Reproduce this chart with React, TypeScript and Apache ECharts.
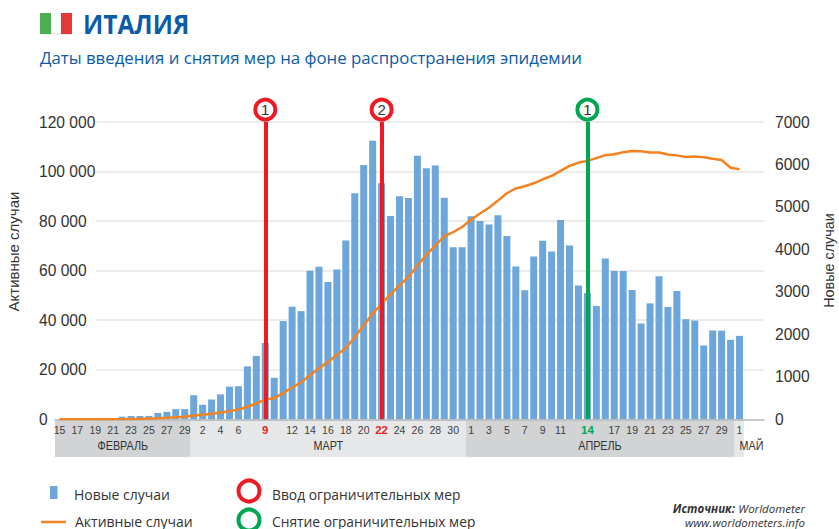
import React, { useEffect, useRef } from "react";
import * as echarts from "echarts";

const dates = [
  "02-15","02-16","02-17","02-18","02-19","02-20","02-21","02-22","02-23","02-24","02-25","02-26","02-27","02-28","02-29",
  "03-01","03-02","03-03","03-04","03-05","03-06","03-07","03-08","03-09","03-10","03-11","03-12","03-13","03-14","03-15","03-16","03-17","03-18","03-19","03-20","03-21","03-22","03-23","03-24","03-25","03-26","03-27","03-28","03-29","03-30","03-31",
  "04-01","04-02","04-03","04-04","04-05","04-06","04-07","04-08","04-09","04-10","04-11","04-12","04-13","04-14","04-15","04-16","04-17","04-18","04-19","04-20","04-21","04-22","04-23","04-24","04-25","04-26","04-27","04-28","04-29","04-30",
  "05-01",
];
const dayLabels: Record<string, string> = {
  "02-15":"15","02-17":"17","02-19":"19","02-21":"21","02-23":"23","02-25":"25","02-27":"27","02-29":"29",
  "03-02":"2","03-04":"4","03-06":"6","03-09":"9","03-12":"12","03-14":"14","03-16":"16","03-18":"18","03-20":"20","03-22":"22","03-24":"24","03-26":"26","03-28":"28","03-30":"30",
  "04-01":"1","04-03":"3","04-05":"5","04-07":"7","04-09":"9","04-11":"11","04-14":"14","04-17":"17","04-19":"19","04-21":"21","04-23":"23","04-25":"25","04-27":"27","04-29":"29",
  "05-01":"1",
};
const newCases = [
  0,0,0,0,0,0,0,62,78,78,80,150,175,240,240,
  566,342,466,587,769,778,1247,1492,1797,977,2313,2651,2547,3497,3590,3233,3526,4207,5322,5986,6557,5560,4789,5249,5210,6203,5909,5974,5217,4050,4053,
  4782,4668,4585,4805,4316,3599,3039,3836,4204,3951,4694,4092,3153,2972,2667,3786,3493,3491,3047,2256,2729,3370,2646,3021,2357,2324,1739,2091,2086,1872,
  1965,
];
const activeCases = [
  3,3,3,3,3,3,19,59,150,221,311,438,593,821,1053,
  1577,1835,2263,2706,3296,3916,5061,6387,7985,8514,10590,12839,14955,17750,20603,23073,26062,28710,33190,37860,42681,46638,50418,54030,57521,62013,66414,70065,73880,75528,77635,
  80572,83049,85388,88274,91246,93187,94067,95262,96877,98273,100269,102253,103616,104291,105418,106607,106962,107771,108257,108237,107709,107699,106848,106527,105847,106103,105813,105205,104657,101551,
  100943,
];
const months = ["ФЕВРАЛЬ", "МАРТ", "АПРЕЛЬ", "МАЙ"];
const monthEdges = [55, 190.7, 466, 734, 744];
const restrictionEvents = [
  { date: "03-09", label: "1" },
  { date: "03-22", label: "2" },
];
const liftEvents = [{ date: "04-14", label: "1" }];

const BLUE = "#6ca6da";
const ORANGE = "#f58220";
const RED = "#ed1c24";
const GREEN = "#00a651";
const TITLE = "#0b5ca8";
const TEXT = "#333333";
const SANS = "'Liberation Sans', Arial, sans-serif";
const HUM = "'Open Sans', sans-serif";
const MARKER_Y = 125000;

const L = 55, TOP = 122, H = 297.3;

function eventSeries(name: string, events: { date: string; label: string }[], color: string) {
  return {
    name,
    type: "scatter",
    xAxisIndex: 0,
    yAxisIndex: 0,
    clip: false,
    z: 6,
    symbol: "circle",
    symbolSize: 20,
    silent: true,
    itemStyle: { color: "#fff", borderColor: color, borderWidth: 4, opacity: 1 },
    label: {
      show: true,
      position: "inside",
      formatter: (p: any) => events[p.dataIndex].label,
      fontFamily: SANS,
      fontSize: 15,
      color: TEXT,
    },
    data: events.map((e) => [e.date, MARKER_Y]),
    markLine: {
      silent: true,
      symbol: "none",
      z: 5,
      label: { show: false },
      lineStyle: { color, width: 4, type: "solid", opacity: 1 },
      data: events.map((e) => [
        { xAxis: e.date, yAxis: 0 },
        { xAxis: e.date, yAxis: 120000 },
      ]),
    },
  };
}

function buildGraphic() {
  const els: any[] = [];
  // flag
  els.push({ type: "rect", shape: { x: 40, y: 13, width: 32, height: 21.5 }, style: { fill: "#dcdcdc" } });
  els.push({ type: "rect", shape: { x: 40, y: 13, width: 11, height: 21 }, style: { fill: "#4caf50" } });
  els.push({ type: "rect", shape: { x: 51, y: 13, width: 10, height: 20.5 }, style: { fill: "#fafafa" } });
  els.push({ type: "rect", shape: { x: 61, y: 13, width: 11, height: 21 }, style: { fill: "#e53935" } });
  // titles
  els.push({ type: "text", x: 83, y: 24, scaleX: 0.91, style: { text: "ИТАЛИЯ", fontFamily: HUM, fontWeight: 700, fontSize: 27, fill: TITLE, textVerticalAlign: "middle" } });
  els.push({ type: "text", x: 40, y: 57, style: { text: "Даты введения и снятия мер на фоне распространения эпидемии", fontFamily: HUM, fontSize: 16.8, fill: TITLE, textVerticalAlign: "middle" } });
  // axis names
  els.push({ type: "text", x: 13.5, y: 251.5, rotation: Math.PI / 2, style: { text: "Активные случаи", fontFamily: SANS, fontSize: 15, fill: TEXT, textAlign: "center", textVerticalAlign: "middle" } });
  els.push({ type: "text", x: 829, y: 260.5, rotation: Math.PI / 2, style: { text: "Новые случаи", fontFamily: SANS, fontSize: 14.4, fill: TEXT, textAlign: "center", textVerticalAlign: "middle" } });
  // month bands
  months.forEach((m, i) => {
    const x = monthEdges[i];
    const w = monthEdges[i + 1] - x;
    els.push({ type: "rect", z: -1, shape: { x, y: 419.5, width: w, height: 37.5 }, style: { fill: i % 2 === 0 ? "#d1d3d4" : "#e6e7e8" } });
    els.push({
      type: "text", z: 1,
      x: i === 3 ? 751.5 : x + w / 2, y: 446, scaleX: 0.9,
      style: { text: m, fontFamily: SANS, fontSize: 12, fill: TEXT, textAlign: "center", textVerticalAlign: "middle" },
    });
  });
  // legend
  els.push({ type: "rect", shape: { x: 50, y: 486, width: 7.5, height: 13 }, style: { fill: BLUE } });
  els.push({ type: "line", shape: { x1: 41, y1: 522, x2: 66, y2: 522 }, style: { stroke: ORANGE, lineWidth: 2.5 } });
  els.push({ type: "circle", shape: { cx: 249, cy: 491, r: 10.5 }, style: { fill: "#fff", stroke: RED, lineWidth: 4 } });
  els.push({ type: "circle", shape: { cx: 249, cy: 520, r: 10.5 }, style: { fill: "#fff", stroke: GREEN, lineWidth: 4 } });
  const legendText = (text: string, x: number, y: number, size: number) => ({
    type: "text", x, y,
    style: { text, fontFamily: HUM, fontSize: size, lineHeight: 14, fill: TEXT, textVerticalAlign: "middle" },
  });
  els.push(legendText("Новые случаи", 74, 494, 14));
  els.push(legendText("Активные случаи", 75, 521, 14));
  els.push(legendText("Ввод ограничительных мер", 272, 494, 13.8));
  els.push(legendText("Снятие ограничительных мер", 272, 521, 13.8));
  // source
  els.push({
    type: "text", x: 805, y: 508,
    style: {
      text: "{b|Источник:} {i|Worldometer}",
      textAlign: "right", textVerticalAlign: "middle",
      rich: {
        b: { fontFamily: HUM, fontSize: 11.5, fontStyle: "italic", fontWeight: 700, fill: TEXT },
        i: { fontFamily: HUM, fontSize: 11.5, fontStyle: "italic", fill: TEXT },
      },
    },
  });
  els.push({ type: "text", x: 805, y: 522, style: { text: "www.worldometers.info", fontFamily: HUM, fontSize: 11.5, lineHeight: 12, fontStyle: "italic", fill: TEXT, textAlign: "right", textVerticalAlign: "middle" } });
  return els;
}

const spaced = (v: number) => String(v).replace(/\B(?=(\d{3})+$)/g, " ");

export default function App() {
  const ref = useRef<HTMLDivElement>(null);
  useEffect(() => {
    const chart = echarts.init(ref.current!, undefined, { renderer: "svg" });
    const hiddenY = { type: "value", show: false, gridIndex: 0, splitLine: { show: false } };
    chart.setOption({
      animation: false,
      backgroundColor: "#fff",
      grid: [
        { left: L, top: TOP, width: 689, height: H },
        { left: 96, top: TOP, width: 668, height: H },
      ],
      xAxis: [
        {
          type: "category", gridIndex: 0, data: dates,
          boundaryGap: true,
          axisLine: { show: true, lineStyle: { color: "#bcbec0", width: 1.5 } },
          axisTick: { show: false },
          z: 3,
          axisLabel: {
            show: true, interval: 0, hideOverlap: false, margin: 5,
            fontFamily: SANS, fontSize: 10.5, color: "#404040",
            formatter: (v: string) => {
              const t = dayLabels[v];
              if (!t) return "";
              if (restrictionEvents.some((e) => e.date === v)) return `{r|${t}}`;
              if (liftEvents.some((e) => e.date === v)) return `{g|${t}}`;
              return t;
            },
            rich: {
              r: { fontFamily: SANS, fontSize: 11.5, fontWeight: 700, color: RED },
              g: { fontFamily: SANS, fontSize: 11.5, fontWeight: 700, color: GREEN },
            },
          },
        },
        {
          type: "value", gridIndex: 1, min: 0, max: 1,
          axisLine: { show: true, onZero: false, lineStyle: { color: "#bcbec0", width: 1.5 } },
          axisTick: { show: false }, axisLabel: { show: false }, splitLine: { show: false },
        },
      ],
      yAxis: [
        { ...hiddenY, min: 0, max: 120000 },
        { ...hiddenY, min: 0, max: 7000 },
        {
          type: "value", gridIndex: 1, position: "left", min: 0, max: 120000, interval: 20000,
          axisLine: { show: false }, axisTick: { show: false },
          axisLabel: { margin: 57, align: "left", fontFamily: SANS, fontSize: 15.6, color: TEXT, formatter: spaced },
          splitLine: { show: true, lineStyle: { color: "#e6e6e6", width: 1.5 } },
        },
        {
          type: "value", gridIndex: 1, position: "right", min: 0, max: 7000, interval: 1000,
          axisLine: { show: false }, axisTick: { show: false },
          axisLabel: { margin: 11, fontFamily: SANS, fontSize: 15.6, color: TEXT, formatter: (v: number) => String(v) },
          splitLine: { show: false },
        },
      ],
      series: [
        {
          name: "Новые случаи", type: "bar", xAxisIndex: 0, yAxisIndex: 1,
          data: newCases, barWidth: 7, z: 2,
          itemStyle: { color: BLUE },
        },
        eventSeries("Ввод ограничительных мер", restrictionEvents, RED),
        eventSeries("Снятие ограничительных мер", liftEvents, GREEN),
        {
          name: "Активные случаи", type: "line", xAxisIndex: 0, yAxisIndex: 0,
          data: activeCases, showSymbol: false, symbol: "none", z: 4,
          lineStyle: { color: ORANGE, width: 2.5 },
        },
      ],
      graphic: { elements: buildGraphic() },
    });
    return () => chart.dispose();
  }, []);
  return <div ref={ref} style={{ position: "fixed", left: 0, top: 0, width: 839, height: 529 }} />;
}
